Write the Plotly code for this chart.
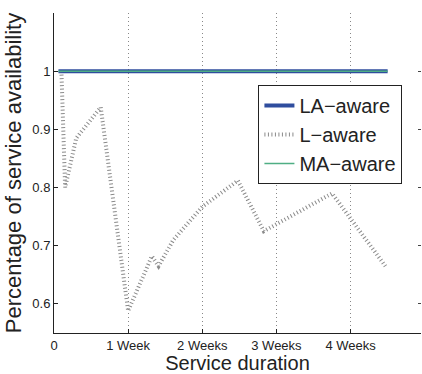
import plotly.graph_objects as go

# Data (x in weeks)
la_x = [0.06, 4.5]
la_y = [1.0, 1.0]
ma_x = [0.06, 4.5]
ma_y = [1.0, 1.0]
l_x = [0.10, 0.15, 0.30, 0.63, 1.00, 1.32, 1.41, 1.61, 2.00, 2.48, 2.83, 3.75, 4.47]
l_y = [1.00, 0.80, 0.885, 0.938, 0.588, 0.682, 0.665, 0.71, 0.767, 0.812, 0.725, 0.79, 0.665]

tick_vals = [0, 1, 2, 3, 4]
tick_text = ["0", "1 Week", "2 Weeks", "3 Weeks", "4 Weeks"]
y_ticks = [0.6, 0.7, 0.8, 0.9, 1.0]
y_text = ["0.6", "0.7", "0.8", "0.9", "1"]

fig = go.Figure()
fig.add_trace(go.Scatter(x=la_x, y=la_y, mode="lines", name="LA\u2212aware",
                         line=dict(color="#2f4d9e", width=4)))
fig.add_trace(go.Scatter(x=l_x, y=l_y, mode="lines", name="L\u2212aware",
                         line=dict(color="#8a8a8a", width=4, dash="1px,2.5px")))
fig.add_trace(go.Scatter(x=ma_x, y=ma_y, mode="lines", name="MA\u2212aware",
                         line=dict(color="#4fae84", width=1.5)))
fig.add_trace(go.Scatter(x=[None], y=[None], yaxis="y2", showlegend=False,
                         hoverinfo="skip", mode="lines"))

font = "Liberation Sans, Arial, sans-serif"
fig.update_layout(
    width=422, height=374,
    margin=dict(l=54, r=1, t=13, b=41),
    paper_bgcolor="white", plot_bgcolor="white",
    font=dict(family=font, color="#222", size=13),
    showlegend=True,
    legend=dict(x=0.557, y=0.775, xanchor="left", yanchor="top",
                bgcolor="white", bordercolor="#222", borderwidth=1,
                font=dict(size=20, family=font, color="#222"),
                tracegroupgap=0, itemwidth=30),
    xaxis=dict(range=[0, 4.95], tickmode="array", tickvals=tick_vals, ticktext=tick_text,
               showgrid=True, gridcolor="#888", griddash="1px,3px", gridwidth=1,
               showline=True, linecolor="#222", linewidth=1,
               ticks="inside", ticklen=4, tickcolor="#222",
               zeroline=False, tickfont=dict(size=13),
               title=dict(text="Service duration", font=dict(size=20), standoff=2)),
    yaxis=dict(range=[0.55, 1.1], tickmode="array", tickvals=y_ticks, ticktext=y_text,
               showgrid=False, showline=True, linecolor="#222", linewidth=1,
               ticks="inside", ticklen=4, tickcolor="#222",
               zeroline=False, tickfont=dict(size=13),
               title=dict(text="Percentage of service availability", font=dict(size=22), standoff=4)),
    yaxis2=dict(range=[0.55, 1.1], overlaying="y", side="right", tickmode="array",
                tickvals=y_ticks, showticklabels=False, ticks="inside", ticklen=3,
                tickcolor="#444", showgrid=False, showline=False, zeroline=False),
)

fig.write_html("out.html")
